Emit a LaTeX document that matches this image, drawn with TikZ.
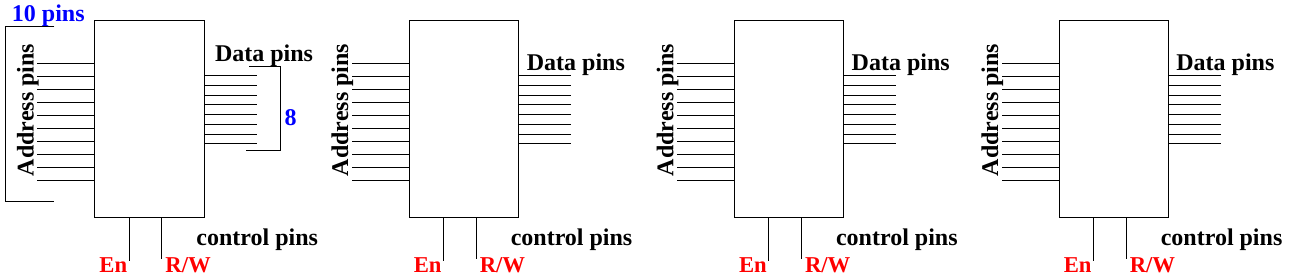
\documentclass[tikz,border=0pt]{standalone}
\usepackage{fontspec}
\setmainfont{Liberation Serif}
\usepackage{tikz}
\usepackage{xcolor}
\usetikzlibrary{calc}

\begin{document}
\begin{tikzpicture}[
  x=0.75pt, y=-0.75pt,
  every node/.style={font=\fontsize{18}{20}\selectfont\bfseries, inner sep=0pt},
  mem/.style={draw,rectangle,line width=0.75pt,minimum width=82.2pt,minimum height=147.5pt},
  pin/.style={line width=0.75pt},
  lbl/.style={anchor=base west},
  sig/.style={lbl,text=red,font=\fontsize{17}{19}\selectfont\bfseries},
  cnt/.style={text=blue}
]
\useasboundingbox (0,0) rectangle (1291,276);
% four memory chips
\foreach \x/\dx/\dy/\n in {94.7/10.5/61.5/a, 409/8/70/b, 734.3/7.5/70/c, 1059/7.5/70/d} {
  \node[mem] (m\n) at (\x+54.8,118.7) {};
  \foreach \i in {0,...,9}
    \draw[pin] ($(m\n.north west)+(0,43.7+13*\i)$) -- ++(-57,0);
  \foreach \i in {0,...,7}
    \draw[pin] ($(m\n.north east)+(0,56+9.7*\i)$) -- ++(52,0);
  \draw[pin] ($(m\n.south west)+(35,0)$) -- ++(0,43);
  \draw[pin] ($(m\n.south west)+(67.5,0)$) -- ++(0,41);
  \node[rotate=90,anchor=base] (ad\n) at (\x-61,110) {Address pins};
  \node[lbl] (da\n) at (\x+109.6+\dx,\dy) {Data pins};
  \node[lbl] (cp\n) at (\x+101.5,245) {control pins};
  \node[sig] (en\n) at (\x+4.5,272) {En};
  \node[sig] (rw\n) at (\x+70.5,272) {R/W};
}
% pin counts on the first chip
\node[lbl,cnt] (ten) at (11.7,21.7) {10 pins};
\coordinate (at) at (54.3,26);
\coordinate (ab) at (54.3,201.5);
\draw[pin] (at) -- (5.3,26) -- (5.3,201.5) -- (ab);
\coordinate (dt) at (249,66.5);
\coordinate (db) at (246,150.5);
\draw[pin] (dt) -- (280.5,66.5) -- (280.5,150.5) -- (db);
\node[cnt] (eight) at (290.5,118) {8};
\end{tikzpicture}
\end{document}
